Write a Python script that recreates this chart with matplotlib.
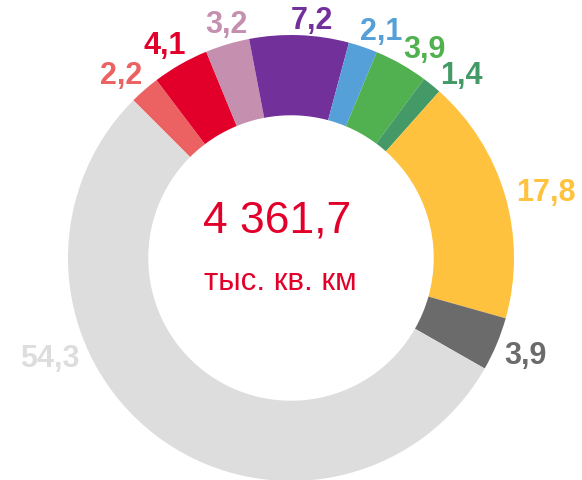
import numpy as np
import matplotlib
matplotlib.use("Agg")
import matplotlib.pyplot as plt

plt.rcParams['font.family'] = ['Liberation Sans', 'DejaVu Sans']

# shares, %, clockwise from the upper left
shares = [2.2, 4.1, 3.2, 7.2, 2.1, 3.9, 1.4, 17.8, 3.9, 54.3]
share_labels = ['2,2', '4,1', '3,2', '7,2', '2,1', '3,9', '1,4', '17,8', '3,9', '54,3']
colors = ['#EC6161', '#E2002B', '#C58FB0', '#72309B', '#55A0D8',
          '#51B050', '#439A66', '#FFC23E', '#6B6B6B', '#DDDDDD']
total_text = '4 361,7'
unit_text = 'тыс. кв. км'

# angle nudge (deg) of each label away from its wedge middle
label_shift = [2, 1, -1, -3, -3, -3, -4, -2, 0, -30]

W, H = 582, 480
R_PX = 223.0          # outer radius in pixels
CX, CY = 291, 258     # centre, pixels from top-left

fig = plt.figure(figsize=(W / 100, H / 100), dpi=100)
ax = fig.add_axes([0, 0, 1, 1])

wedges, _ = ax.pie(shares, colors=colors, startangle=135, counterclock=False,
                   radius=1.0, wedgeprops=dict(width=0.36, edgecolor='none'))

ax.set_xlim(-CX / R_PX, (W - CX) / R_PX)
ax.set_ylim(-(H - CY) / R_PX, CY / R_PX)
ax.set_aspect('equal', adjustable='box')
ax.axis('off')

texts = []
for w, lab, col, sh in zip(wedges, share_labels, colors, label_shift):
    t = ax.text(0, 0, lab, color=col, fontsize=22, fontweight='bold',
                ha='center', va='center')
    texts.append((t, w, sh))

fig.canvas.draw()
renderer = fig.canvas.get_renderer()
pad = 10 / R_PX
for t, w, sh in texts:
    ang = np.deg2rad((w.theta1 + w.theta2) / 2 + sh)
    bb = t.get_window_extent(renderer)
    hw = bb.width / 2 / R_PX
    hh = 3 / R_PX
    r = 1 + pad + abs(np.cos(ang)) * hw + abs(np.sin(ang)) * hh
    t.set_position((r * np.cos(ang), r * np.sin(ang)))

ax.text(-0.063, 0.166, total_text, color='#E2002B', fontsize=32,
        ha='center', va='center')
ax.text(-0.05, -0.108, unit_text, color='#E2002B', fontsize=22.5,
        ha='center', va='center')

fig.savefig('out.png', dpi=100)
